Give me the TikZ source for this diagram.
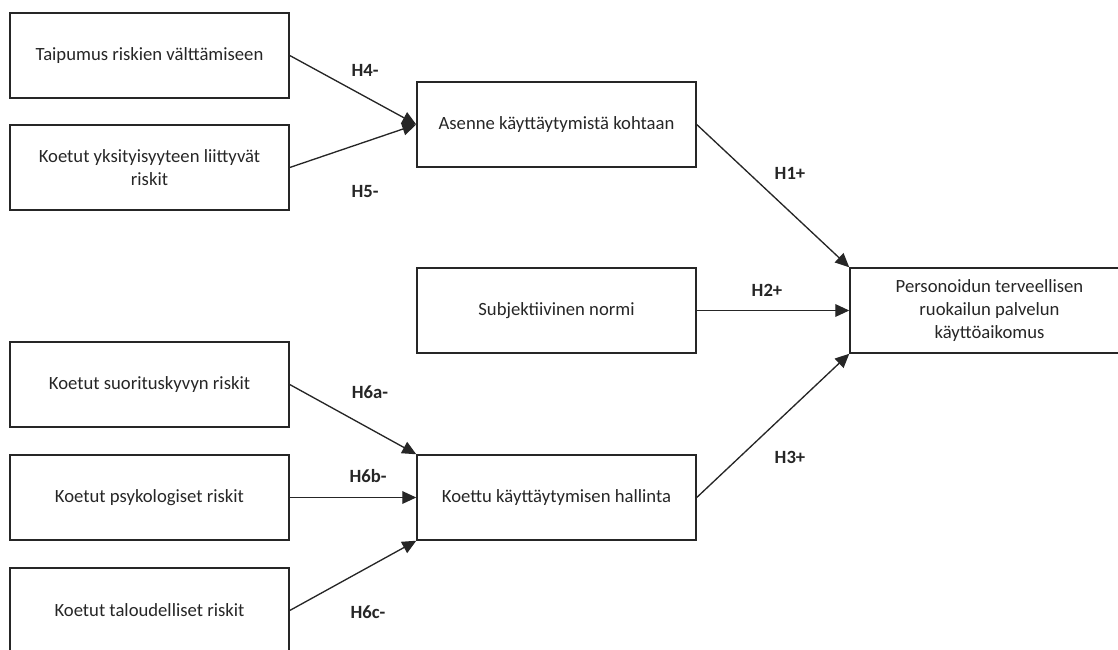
\documentclass[tikz,border=0pt]{standalone}
\usepackage{fontspec}
\setmainfont{Carlito}
\usetikzlibrary{positioning,arrows.meta}

\begin{document}
\begin{tikzpicture}[x=0.75pt,y=-0.75pt,on grid,color=black!85,
		box/.style={draw,line width=1.1pt,minimum width=209.25pt,minimum height=63.75pt,inner sep=0pt,align=center,font=\fontsize{14}{17}\selectfont},
		hyp/.style={font=\fontsize{14}{17}\selectfont\bfseries},
		link/.style={->,line width=1pt},
		>={Triangle[length=10.5pt,width=9.5pt]}]
			\useasboundingbox (0,0) rectangle (1118,650);
			\clip (0,0) rectangle (1118,650);
			\node[box] (taipumus) at (149.5,55.5)				{Taipumus riskien välttämiseen};
			\node[box] (yksityisyys) [below=84pt of taipumus]		{Koetut yksityisyyteen liittyvät\\riskit};
			\node[box] (suoritus) [below=162.75pt of yksityisyys]	{Koetut suorituskyvyn riskit};
			\node[box] (psykologiset) [below=84.75pt of suoritus]	{Koetut psykologiset riskit};
			\node[box] (talous) [below=84.75pt of psykologiset]		{Koetut taloudelliset riskit};
			\node[box] (hallinta) [right=305.25pt of psykologiset]	{Koettu käyttäytymisen hallinta};
			\node[box] (normi) [above=140.25pt of hallinta]		{Subjektiivinen normi};
			\node[box] (asenne) [above=139.5pt of normi]			{Asenne käyttäytymistä kohtaan};
			\node[box] (aikomus) [right=324.75pt of normi]		{Personoidun terveellisen\\ruokailun palvelun\\käyttöaikomus};
			\node[hyp] (h1) at (790,173) {H1+};
			\node[hyp] (h2) at (767,290) {H2+};
			\node[hyp] (h3) at (790,457) {H3+};
			\node[hyp] (h4) at (365,70)  {H4-};
			\node[hyp] (h5) at (365,192) {H5-};
			\node[hyp] (h6a) at (370,392) {H6a-};
			\node[hyp] (h6b) at (368,476) {H6b-};
			\node[hyp] (h6c) at (368,612) {H6c-};
			\path[link]
				(taipumus.east) edge (asenne.west)
				(yksityisyys.east) edge (asenne.west)
				(asenne.east) edge (aikomus.north west)
				(normi.east) edge (aikomus.west)
				(hallinta.east) edge (aikomus.south west)
				(suoritus.east) edge (hallinta.north west)
				(psykologiset.east) edge (hallinta.west)
				(talous.east) edge (hallinta.south west);
		\end{tikzpicture}
\end{document}
